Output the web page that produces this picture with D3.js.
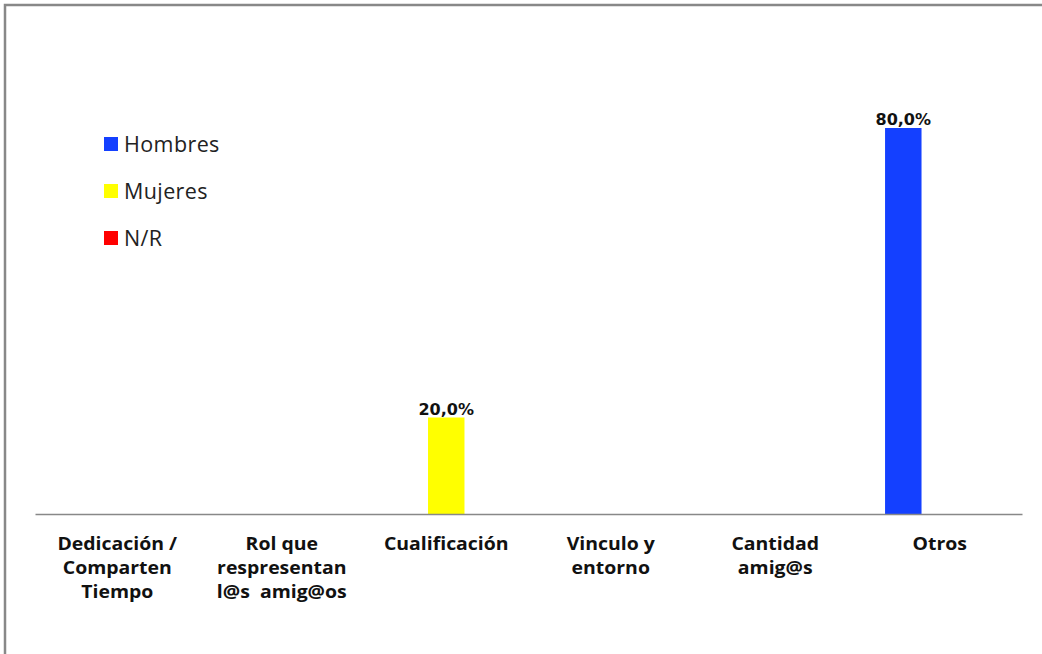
<!DOCTYPE html>
<html><head><meta charset="utf-8">
<script src="https://cdn.jsdelivr.net/npm/d3@7"></script>
<style>body{margin:0;background:#fff}svg{display:block}</style>
</head><body>
<script>
const categories = [["Dedicación /","Comparten","Tiempo"],["Rol que","respresentan","l@s  amig@os"],["Cualificación"],["Vinculo y","entorno"],["Cantidad","amig@s"],["Otros"]];
const seriesNames = ["Hombres","Mujeres","N/R"];
const hombres = [0,0,0,0,0,0.8];
const mujeres = [0,0,0.2,0,0,0];
const nr = [0,0,0,0,0,0];
const seriesColors = ["#1440ff","#ffff00","#ff0000"];
const values = [hombres, mujeres, nr];

const W=1042,H=654;
const svg=d3.select("body").append("svg").attr("width",W).attr("height",H);
// frame
svg.append("path").attr("d","M5,654 V5 H1042").attr("fill","none").attr("stroke","#888").attr("stroke-width",2.5);

const x0=d3.scaleBand().domain(d3.range(categories.length)).range([35,1022]).paddingInner(0.335).paddingOuter(0.1675);
const x1=d3.scaleBand().domain(d3.range(seriesNames.length)).range([0,x0.bandwidth()]);
const y=d3.scaleLinear().domain([0,1]).range([514,31.5]);

const fmt=v=>d3.format(".1f")(v*100).replace(".",",")+"%";

values.forEach((vals,si)=>{
  const g=svg.append("g");
  vals.forEach((v,ci)=>{
    if(v<=0) return;
    const bx=x0(ci)+x1(si);
    g.append("rect").attr("x",bx).attr("y",y(v)).attr("width",x1.bandwidth()).attr("height",y(0)-y(v)).attr("fill",seriesColors[si]);
    g.append("text").attr("x",bx+x1.bandwidth()/2).attr("y",y(v)-3).attr("text-anchor","middle")
      .attr("font-family","DejaVu Sans").attr("font-weight","bold").attr("font-size",16).attr("fill","#111").text(fmt(v));
  });
});

// axis
const axis=d3.axisBottom(x0).tickSize(0).tickFormat("");
const ag=svg.append("g").attr("transform","translate(0,514)").call(axis);
ag.select(".domain").attr("stroke","#888").attr("stroke-width",1.5);
categories.forEach((lines,ci)=>{
  const cx=x0(ci)+x0.bandwidth()/2;
  const t=ag.append("text").attr("text-anchor","middle").attr("font-family","Open Sans").attr("font-weight","bold")
    .attr("font-size",18).attr("fill","#111").attr("transform",`translate(${cx},0) scale(1.08,1)`);
  lines.forEach((l,li)=>t.append("tspan").attr("x",0).attr("y",36+li*24).attr("xml:space","preserve").text(l));
});

// legend
const lg=svg.append("g");
seriesNames.forEach((n,i)=>{
  const yy=152+i*47;
  lg.append("rect").attr("x",104).attr("y",yy-15).attr("width",14).attr("height",14).attr("fill",seriesColors[i]);
  lg.append("text").attr("x",124).attr("y",yy).attr("font-family","Open Sans").attr("font-size",21.5).attr("letter-spacing",0.4).attr("fill","#222").text(n);
});
</script>
</body></html>
